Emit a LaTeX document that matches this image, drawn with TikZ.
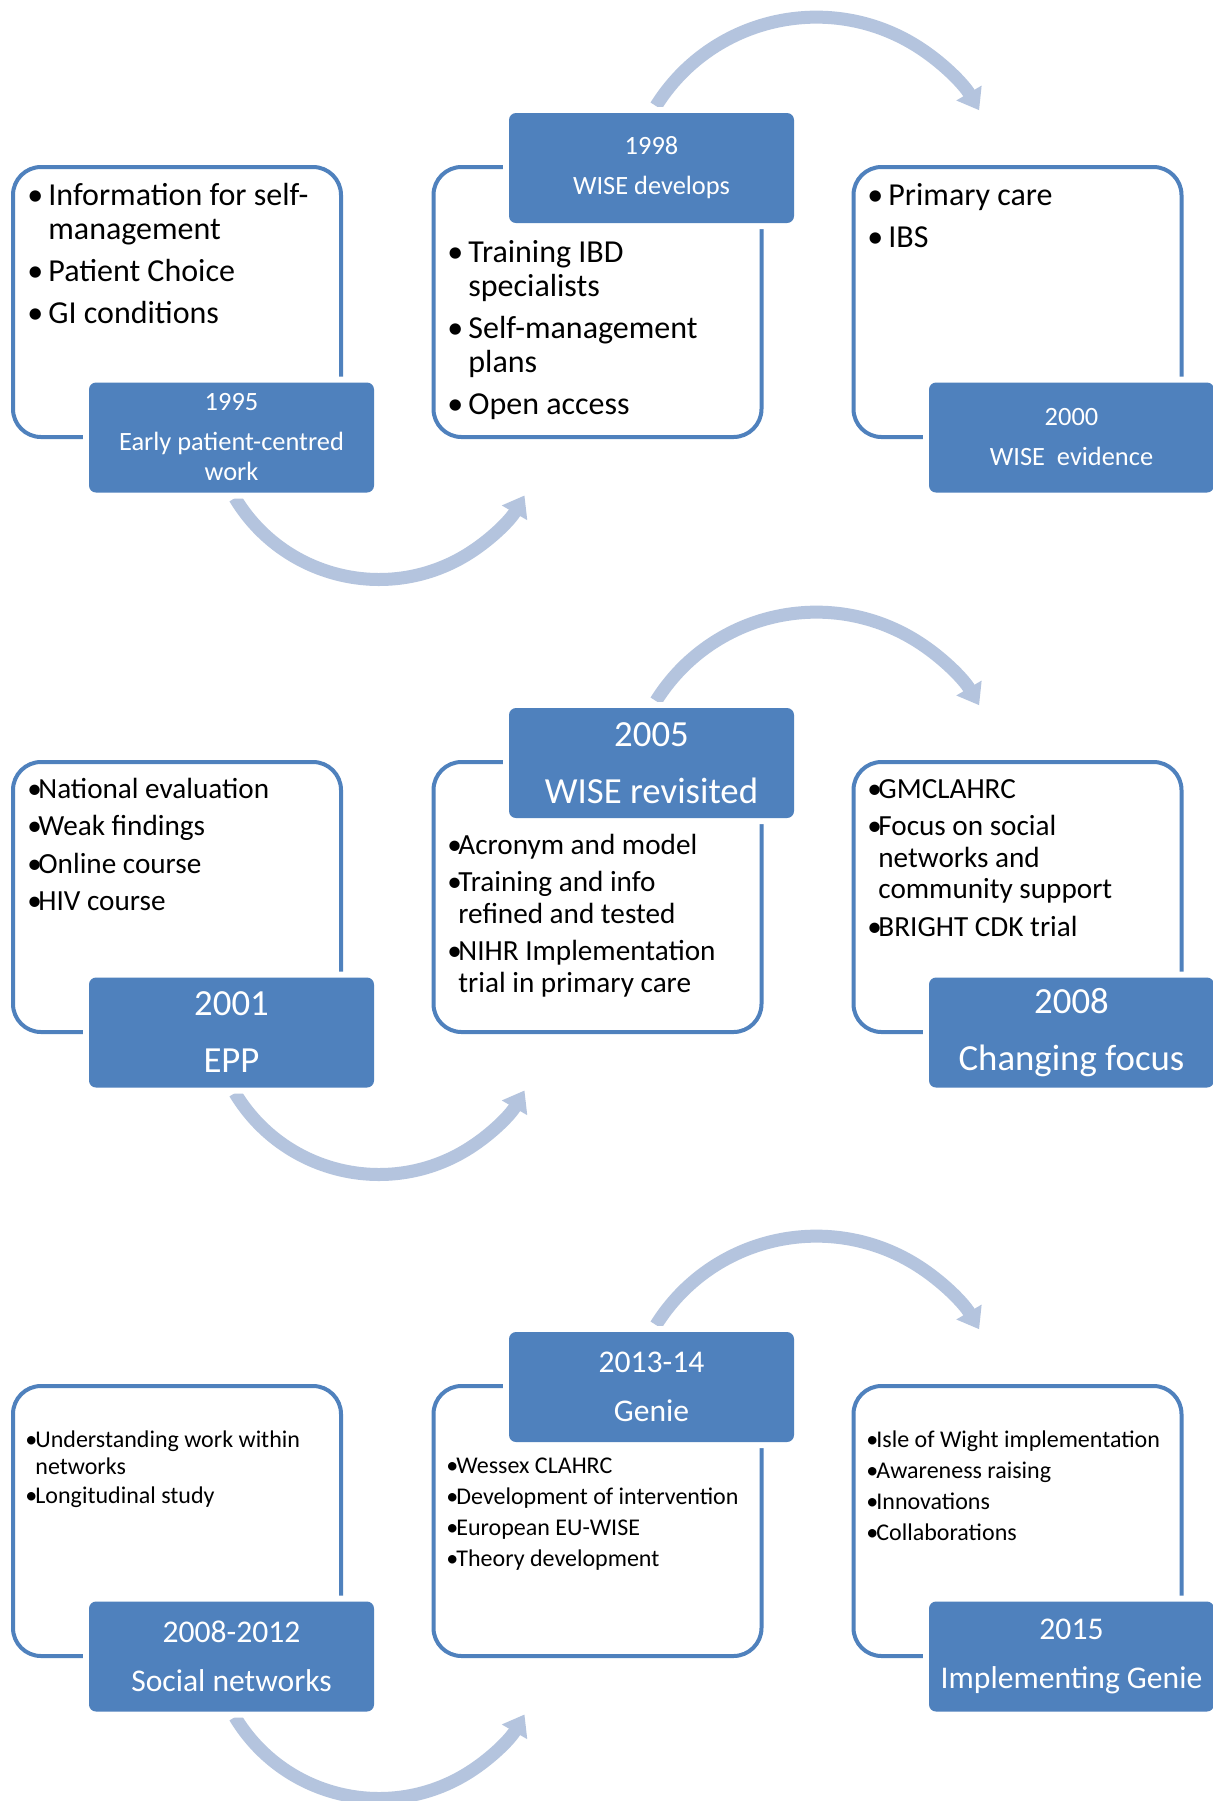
\documentclass[tikz,border=0pt]{standalone}
\usepackage{fontspec}
\setmainfont{Carlito}
\usetikzlibrary{arrows.meta}
\definecolor{accblue}{RGB}{79,129,189}
\definecolor{arrblue}{RGB}{180,196,222}
\newlength\bulw
\newcommand\bi[1]{\hbox{\makebox[\bulw][l]{•}#1}}
\newcommand\ci[1]{\hbox{\hspace*{\bulw}#1}}
\newcommand\blist[3]{\vtop{\setlength\bulw{#1}\baselineskip=#2\relax #3}}
\begin{document}
\begin{tikzpicture}[x=0.5pt,y=-0.5pt,
  wbox/.style={draw=accblue, line width=2pt, rounded corners=14pt, minimum width=164pt, minimum height=135pt, inner sep=0pt, fill=white},
  ybox/.style={fill=accblue, text=white, rounded corners=3.5pt, minimum width=142.5pt, minimum height=55pt, inner sep=0pt, align=center, preaction={draw=white, line width=6pt}},
  flow/.style={draw=arrblue, line width=6.5pt, -{Triangle[length=10pt,width=14pt]}},
  txt/.style={inner sep=0pt, anchor=base west}]
\path[fill=white] (0,0) rectangle (1212,1801);
\useasboundingbox (0,0) rectangle (1212,1801);

% ---------- white boxes ----------
\node[wbox] (w11) at (177,302) {};
\node[wbox] (w12) at (597.5,302) {};
\node[wbox] (w13) at (1017.5,302) {};
\node[wbox] (w21) at (177,897) {};
\node[wbox] (w22) at (597.5,897) {};
\node[wbox] (w23) at (1017.5,897) {};
\node[wbox] (w31) at (177,1521) {};
\node[wbox] (w32) at (597.5,1521) {};
\node[wbox] (w33) at (1017.5,1521) {};

% ---------- arcs ----------
\coordinate (a1b) at (235,498);
\coordinate (a1t) at (656,106);
\coordinate (a2b) at (235,1093);
\coordinate (a2t) at (656,701);
\coordinate (a3b) at (235,1717);
\coordinate (a3t) at (656,1325);
\draw[flow] (a1b) arc[start angle=149, end angle=30, radius=168];
\draw[flow] (a1t) arc[start angle=212, end angle=329.5, radius=189];
\draw[flow] (a2b) arc[start angle=149, end angle=30, radius=168];
\draw[flow] (a2t) arc[start angle=212, end angle=329.5, radius=189];
\draw[flow] (a3b) arc[start angle=149, end angle=30, radius=168];
\draw[flow] (a3t) arc[start angle=212, end angle=329.5, radius=189];

% ---------- blue boxes ----------
\node[ybox, font=\fontsize{13.2}{15}\selectfont] (y1995) at (231.5,437.5) {1995\\[5pt]Early patient-centred\\work};
\node[ybox, font=\fontsize{13.2}{15}\selectfont] (y1998) at (651.5,168) {1998\\[5pt]WISE develops};
\node[ybox, font=\fontsize{13.2}{15}\selectfont] (y2000) at (1071.5,437.5) {2000\\[5pt]WISE~~evidence};
\node[ybox, font=\fontsize{18.4}{28.5}\selectfont] (y2001) at (231.5,1032.5) {2001\\EPP};
\node[ybox, font=\fontsize{18.4}{28.5}\selectfont] (y2005) at (651.5,763) {2005\\WISE revisited};
\node[ybox, font=\fontsize{18.4}{28.5}\selectfont] (y2008) at (1071.5,1032.5) {2008\\Changing focus};
\node[ybox, font=\fontsize{15.8}{24.5}\selectfont] (y0812) at (231.5,1656.5) {2008-2012\\Social networks};
\node[ybox, font=\fontsize{15.8}{24.5}\selectfont] (y1314) at (651.5,1387) {2013-14\\Genie};
\node[ybox, font=\fontsize{15.8}{24.5}\selectfont] (y2015) at (1071.5,1656.5) {2015\\Implementing Genie};

% ---------- bullet texts ----------
\node[txt, font=\fontsize{16}{17}\selectfont] (t11) at (27,205)
  {\blist{10.5pt}{17pt}{\bi{Information for self-}\ci{management}\vskip4pt\bi{Patient Choice}\vskip4pt\bi{GI conditions}}};
\node[txt, font=\fontsize{16}{17}\selectfont] (t12) at (447,262)
  {\blist{10.5pt}{17pt}{\bi{Training IBD}\ci{specialists}\vskip4pt\bi{Self-management}\ci{plans}\vskip4pt\bi{Open access}}};
\node[txt, font=\fontsize{16}{17}\selectfont] (t13) at (867,205)
  {\blist{10.5pt}{17pt}{\bi{Primary care}\vskip4pt\bi{IBS}}};

\node[txt, font=\fontsize{14.6}{15.75}\selectfont] (t21) at (27,798)
  {\blist{5.5pt}{15.75pt}{\bi{National evaluation}\vskip3pt\bi{Weak findings}\vskip3pt\bi{Online course}\vskip3pt\bi{HIV course}}};
\node[txt, font=\fontsize{14.6}{15.75}\selectfont] (t22) at (447,854)
  {\blist{5.5pt}{15.75pt}{\bi{Acronym and model}\vskip3pt\bi{Training and info}\ci{refined and tested}\vskip3pt\bi{NIHR Implementation}\ci{trial in primary care}}};
\node[txt, font=\fontsize{14.6}{15.75}\selectfont] (t23) at (867,798)
  {\blist{5.5pt}{15.75pt}{\bi{GMCLAHRC}\vskip3pt\bi{Focus on social}\ci{networks and}\ci{community support}\vskip3pt\bi{BRIGHT CDK trial}}};

\node[txt, font=\fontsize{12}{13.5}\selectfont] (t31) at (25,1447)
  {\blist{5pt}{13.5pt}{\bi{Understanding work within}\ci{networks}\vskip1pt\bi{Longitudinal study}}};
\node[txt, font=\fontsize{12}{13.5}\selectfont] (t32) at (446,1473)
  {\blist{5pt}{13.5pt}{\bi{Wessex CLAHRC}\vskip2pt\bi{Development of intervention}\vskip2pt\bi{European EU-WISE}\vskip2pt\bi{Theory development}}};
\node[txt, font=\fontsize{12}{13.5}\selectfont] (t33) at (866,1447)
  {\blist{5pt}{13.5pt}{\bi{Isle of Wight implementation}\vskip2pt\bi{Awareness raising}\vskip2pt\bi{Innovations}\vskip2pt\bi{Collaborations}}};
\end{tikzpicture}
\end{document}
